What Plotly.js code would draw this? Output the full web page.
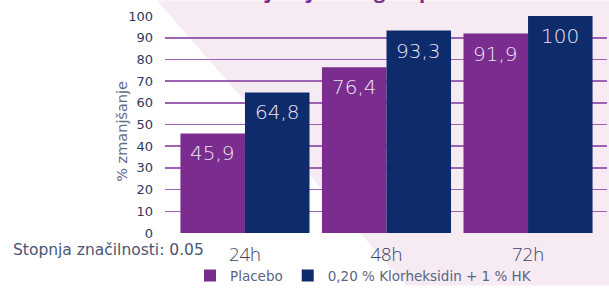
<!DOCTYPE html>
<html>
<head>
<meta charset="utf-8">
<script src="https://cdn.plot.ly/plotly-3.0.1.min.js"></script>
<style>
html,body{margin:0;padding:0;background:#fff;}
#chart{width:609px;height:293px;}
</style>
</head>
<body>
<div id="chart"></div>
<script>
const categories = ["24h", "48h", "72h"];
const placebo = [45.9, 76.4, 91.9];
const klorheksidin = [64.8, 93.3, 100];
const seriesNames = ["Placebo", "0,20 % Klorheksidin + 1 % HK"];
const yTicks = [0, 10, 20, 30, 40, 50, 60, 70, 80, 90, 100];
const titleText = "% zmanjšanja obloge v prvih 24 h";
const yTitle = "% zmanjšanje";
const noteText = "Stopnja značilnosti: 0.05";

const fmt = v => String(v).replace('.', ',');
const FONT = "DejaVu Sans, sans-serif";
const BARGAP = 0.088;
const half = (1 - BARGAP) / 4; // offset of each bar centre within a group

const traces = [
  {
    type: 'bar', name: seriesNames[0], x: categories, y: placebo,
    marker: {color: '#7a2d8f', line: {width: 0}}, hoverinfo: 'skip'
  },
  {
    type: 'bar', name: seriesNames[1], x: categories, y: klorheksidin,
    marker: {color: '#0e2c6b', line: {width: 0}}, hoverinfo: 'skip'
  }
];

// plot area pixels: x 165..607, y 16..239
const L = 165, R = 607, T = 16, B = 239;
const px = p => (p - L) / (R - L);
const py = p => (B - p) / (B - T);

const valueLabels = [];
[placebo, klorheksidin].forEach((vals, s) => {
  vals.forEach((v, i) => {
    valueLabels.push({
      text: fmt(v), x: i + (s === 0 ? -half : half), y: v,
      xref: 'x', yref: 'y', xanchor: 'center', yanchor: 'top', yshift: -6,
      showarrow: false,
      font: {family: FONT, size: 20, color: '#ece4f2', weight: 200}
    });
  });
});

const layout = {
  width: 609, height: 293,
  margin: {l: L, r: 609 - R, t: T, b: 293 - B},
  paper_bgcolor: '#ffffff',
  plot_bgcolor: 'rgba(0,0,0,0)',
  barmode: 'group',
  bargap: BARGAP,
  bargroupgap: 0,
  showlegend: true,
  legend: {
    orientation: 'h', x: px(190), xanchor: 'left', y: py(283), yanchor: 'middle',
    font: {family: FONT, size: 13.5, color: '#5b6482'},
    bgcolor: 'rgba(0,0,0,0)', itemwidth: 30, traceorder: 'normal'
  },
  xaxis: {
    range: [-0.565, 2.558],
    showgrid: false, zeroline: false, showline: false, ticks: '',
    ticklabelstandoff: 8,
    tickfont: {family: "Open Sans, sans-serif", size: 18.5, color: '#3a4562', weight: 300},
    fixedrange: true
  },
  yaxis: {
    range: [0, 100],
    tickvals: yTicks,
    showgrid: true, gridcolor: '#9d62b4', gridwidth: 1.6,
    zeroline: false, showline: false, ticks: '',
    ticklabelstandoff: 11,
    tickfont: {family: FONT, size: 13, color: '#2f3a5a'},
    fixedrange: true
  },
  shapes: [
    {
      type: 'path', xref: 'paper', yref: 'paper', layer: 'below',
      path: `M ${px(157)} ${py(0)} L ${px(609)} ${py(0)} L ${px(609)} ${py(293)} L ${px(406)} ${py(293)} Z`,
      fillcolor: '#f6eaf3', line: {width: 0}
    }
  ],
  annotations: [
    {
      text: '<b>' + titleText + '</b>', xref: 'paper', yref: 'paper',
      x: px(353), y: py(6), xanchor: 'center', yanchor: 'bottom',
      showarrow: false, font: {family: "Open Sans, sans-serif", size: 20, color: '#7a2d8f'}
    },
    {
      text: yTitle, xref: 'paper', yref: 'paper', textangle: -90,
      x: px(122), y: py(135), xanchor: 'center', yanchor: 'middle',
      showarrow: false, font: {family: FONT, size: 14.5, color: '#646c8a'}
    },
    {
      text: noteText, xref: 'paper', yref: 'paper',
      x: px(11), y: py(256), xanchor: 'left', yanchor: 'middle',
      showarrow: false, font: {family: FONT, size: 15.5, color: '#4a5572'}
    }
  ].concat(valueLabels)
};

Plotly.newPlot('chart', traces, layout, {displayModeBar: false, staticPlot: true});
</script>
</body>
</html>
